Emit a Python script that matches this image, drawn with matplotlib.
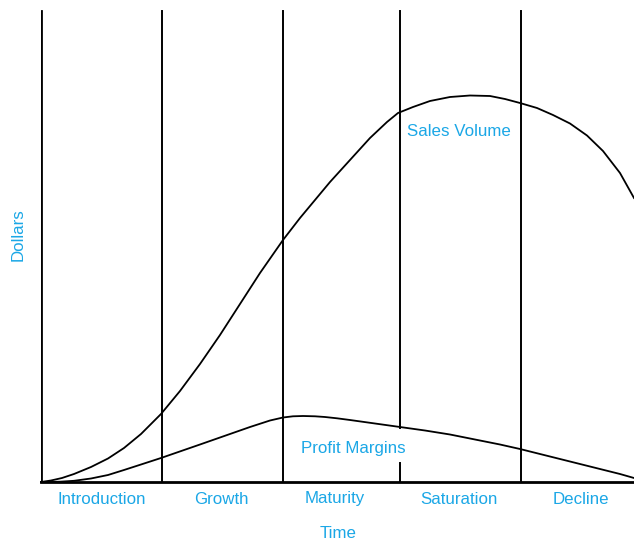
import matplotlib.pyplot as plt

plt.rcParams['font.family'] = ['Liberation Sans', 'DejaVu Sans']

# stage boundaries and labels (time units)
stage_edges = [0, 121, 242, 359, 480]
x_end = 593
stages = ["Introduction", "Growth", "Maturity", "Saturation", "Decline"]
stage_centers = [61, 180, 294, 418, 540]

# sales volume curve
sales_x = [0, 10, 21, 33, 50, 67, 83, 100, 120, 139, 159, 179, 199, 219, 242, 259,
           274, 289, 309, 329, 346, 357, 372, 389, 409, 429, 449, 464, 479, 496,
           512, 529, 546, 562, 579, 593]
sales_y = [0, 1.5, 4, 8, 15, 23.5, 34, 48, 68, 91, 118, 147, 178, 209, 242, 264,
           282, 300, 322, 344, 360, 369, 375, 381, 385, 386.5, 386, 383, 379, 374,
           367, 358.5, 346.5, 331, 309, 284]

# profit margins curve
profit_x = [0, 19, 33, 50, 67, 83, 100, 120, 159, 209, 229, 242, 252, 262, 274,
            284, 296, 309, 334, 359, 384, 409, 439, 459, 479, 499, 519, 539, 559,
            579, 593]
profit_y = [0, 0.3, 1.2, 3.5, 7, 12, 17.5, 24, 37.5, 55, 61.5, 64.5, 65.7, 66,
            65.7, 65, 63.7, 62, 58.5, 55, 51.5, 47.5, 41.5, 37.5, 33, 28, 23, 18,
            13, 8, 4]

fig = plt.figure(figsize=(6.34, 5.39), dpi=100)
ax = fig.add_axes([41 / 634, 57 / 539, 593 / 634, 472 / 539])
ax.set_xlim(0, x_end)
ax.set_ylim(0, 472)
ax.axis('off')

top = 471
for i, xe in enumerate(stage_edges):
    lw = 2.0 if i == 0 else 1.4
    if stages[i] == "Saturation":
        # line is broken where the Profit Margins label sits
        ax.plot([xe, xe], [54, top], color='black', lw=lw)
        ax.plot([xe, xe], [0, 19], color='black', lw=lw)
    else:
        ax.plot([xe, xe], [0, top], color='black', lw=lw)

ax.plot([0, x_end], [0, 0], color='black', lw=2.0, clip_on=False)

ax.plot(sales_x, sales_y, color='black', lw=1.3, clip_on=False,
        solid_joinstyle='round')
ax.plot(profit_x, profit_y, color='black', lw=1.3, clip_on=False,
        solid_joinstyle='round')

blue = '#1BA7E6'
fs = 12.2
for name, cx in zip(stages, stage_centers):
    ax.text(cx, -17, name, color=blue, fontsize=fs, ha='center', va='center')

ax.text(297, -51, "Time", color=blue, fontsize=fs, ha='center', va='center')
ax.text(-23, 247, "Dollars", color=blue, fontsize=fs, ha='center', va='center',
        rotation=90)
ax.text(418, 351, "Sales Volume", color=blue, fontsize=fs, ha='center', va='center')
ax.text(312, 33, "Profit Margins", color=blue, fontsize=fs, ha='center', va='center')

fig.savefig('out.png', dpi=100)
